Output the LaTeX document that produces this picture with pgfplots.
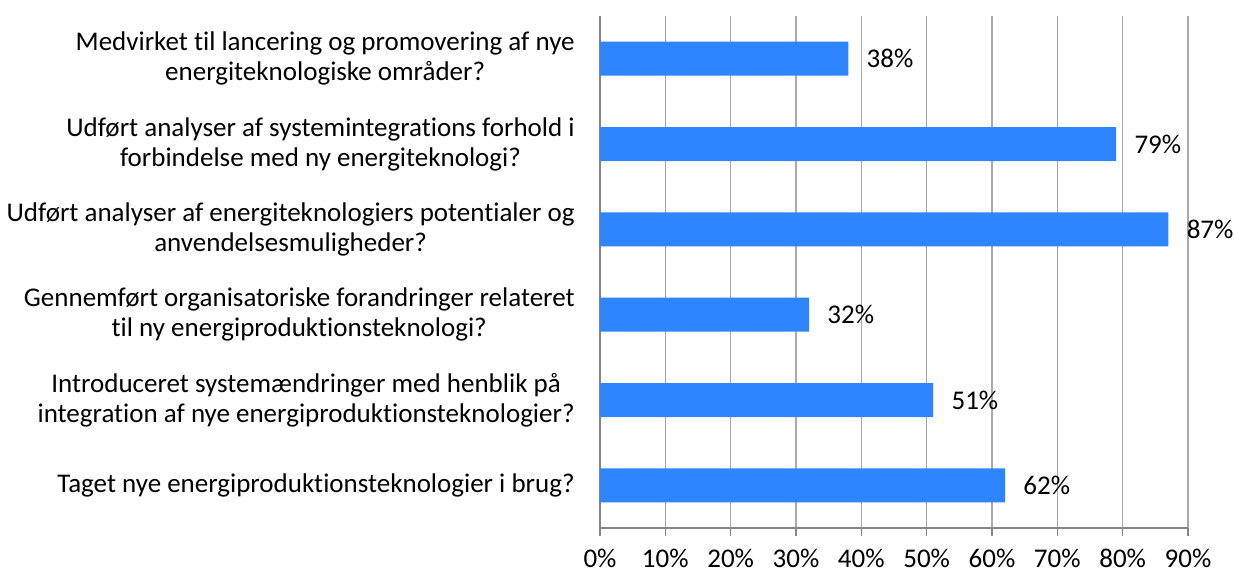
\documentclass[border=0pt]{standalone}
\usepackage{pgfplots}
\pgfplotsset{compat=1.18}
\usepackage{fontspec}
\setmainfont{Carlito}[Ligatures=NoCommon]
\definecolor{barblue}{RGB}{46,133,255}
\definecolor{gridgray}{RGB}{170,170,170}
\definecolor{axgray}{RGB}{134,134,134}
\begin{document}
\fontsize{13.5}{15}\selectfont
\begin{tikzpicture}
\begin{axis}[
  name=ax,
  scale only axis,
  width=294pt, height=256pt,
  xbar, bar width=17pt,
  xmin=0, xmax=90,
  ymin=-0.5, ymax=5.5,
  y dir=reverse,
  axis x line*=bottom,
  axis y line*=left,
  axis line style={axgray, line width=0.8pt},
  xtick={0,10,...,90},
  xticklabels={0\%,10\%,20\%,30\%,40\%,50\%,60\%,70\%,80\%,90\%},
  xmajorgrids,
  major grid style={gridgray, line width=0.6pt},
  x tick style={axgray, line width=0.8pt},
  tick align=outside,
  major tick length=4pt,
  xticklabel style={font=\fontsize{13.5}{15}\selectfont, yshift=-2pt},
  ytick={0,1,2,3,4,5},
  yticklabels={
    {Medvirket til lancering og promovering af nye\\energiteknologiske områder?},
    {Udført analyser af systemintegrations forhold i\\forbindelse med ny energiteknologi?},
    {Udført analyser af energiteknologiers potentialer og\\anvendelsesmuligheder?},
    {Gennemført organisatoriske forandringer relateret\\til ny energiproduktionsteknologi?},
    {Introduceret systemændringer med henblik på\\integration af nye energiproduktionsteknologier?},
    {Taget nye energiproduktionsteknologier i brug?}},
  yticklabel style={align=center, font=\fontsize{13.5}{15}\selectfont, xshift=-4pt},
  y tick style={draw=none},
  minor ytick={-0.5,0.5,1.5,2.5,3.5,4.5,5.5},
  minor y tick style={axgray, line width=0.8pt},
  minor tick length=4pt,
  /pgf/number format/assume math mode=true,
  nodes near coords={\pgfmathprintnumber{\pgfplotspointmeta}\%},
  nodes near coords style={anchor=west, xshift=4.5pt, font=\fontsize{13.5}{15}\selectfont, black},
  point meta=x,
  clip=false,
]
\addplot[fill=barblue, draw=none] coordinates {
  (38,0) (79,1) (87,2) (32,3) (51,4) (62,5)
};
\end{axis}
\pgfresetboundingbox
\useasboundingbox ([xshift=-300pt,yshift=-22pt]ax.south west) rectangle ([xshift=23pt,yshift=8pt]ax.north east);
\end{tikzpicture}
\end{document}
